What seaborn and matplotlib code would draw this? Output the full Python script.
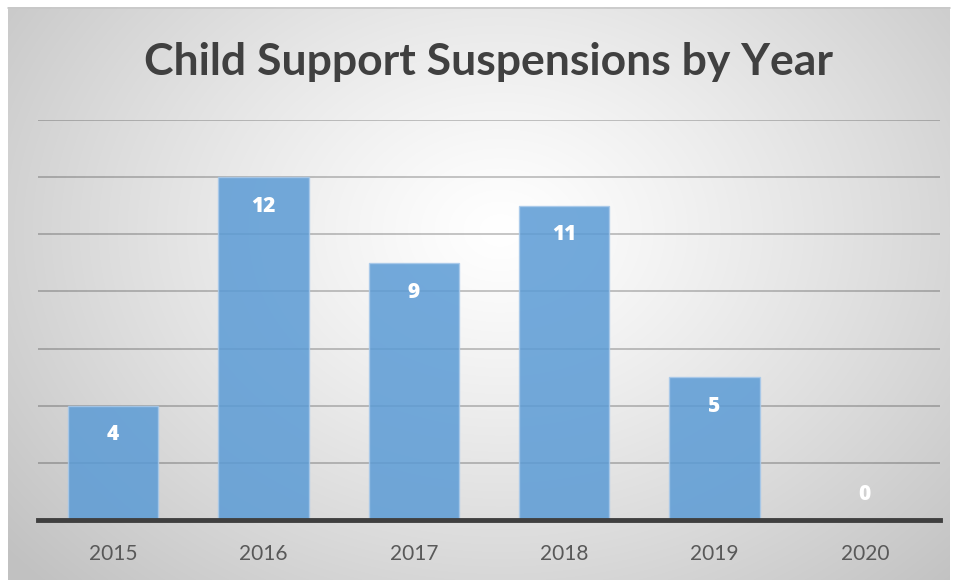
import numpy as np
import matplotlib
matplotlib.use("Agg")
import matplotlib.pyplot as plt
import seaborn as sns
import pandas as pd

years = ["2015", "2016", "2017", "2018", "2019", "2020"]
suspensions = [4, 12, 9, 11, 5, 0]
title = "Child Support Suspensions by Year"

sns.set_theme(style="white")
plt.rcParams["font.family"] = ["Lato", "DejaVu Sans"]

W, H = 959, 580
fig = plt.figure(figsize=(W / 100, H / 100), dpi=100, facecolor="white")

# background panel with radial gradient
bg = fig.add_axes([8 / W, 0, (950 - 8) / W, (580 - 7) / H], zorder=0)
px_w, px_h = 942, 573
xx, yy = np.meshgrid(np.arange(px_w) + 8, np.arange(px_h) + 7)
cx, cy, rx, ry = 500, 230, 640, 500
d = np.sqrt(((xx - cx) / rx) ** 2 + ((yy - cy) / ry) ** 2)
d = np.clip(d, 0, 1)
val = 1 - 0.24 * d ** 1.2
img = np.dstack([val, val, val])
bg.imshow(img, aspect="auto", extent=[0, 1, 0, 1], origin="upper")
bg.set_axis_off()
fig.add_artist(plt.Line2D([8 / W, 950 / W], [1 - 7.5 / H, 1 - 7.5 / H],
                          color="#c8c8c8", lw=1.2, transform=fig.transFigure))

ax = fig.add_axes([38 / W, 60 / H, 902 / W, 400 / H], zorder=1)
ax.set_facecolor("none")

df = pd.DataFrame({"year": years, "value": suspensions})
sns.barplot(data=df, x="year", y="value", color="#5b9bd5", saturation=1,
            width=0.6, alpha=0.85, edgecolor="#a8c9ea", linewidth=1.0,
            ax=ax, zorder=3)

ax.set_ylim(0, 14)
ax.set_xlim(-0.5, 5.5)
ax.set_yticks(np.arange(2, 15, 2))
ax.yaxis.grid(True, color="black", alpha=0.22, lw=1.4, zorder=1)
ax.set_axisbelow(True)
ax.tick_params(axis="y", left=False, labelleft=False)
ax.tick_params(axis="x", bottom=False, labelsize=15, labelcolor="#595959", pad=11)
ax.set_xlabel("")
ax.set_ylabel("")
for s in ["top", "right", "left"]:
    ax.spines[s].set_visible(False)
ax.spines["bottom"].set_color("#3f3f3f")
ax.spines["bottom"].set_linewidth(3.5)
ax.spines["bottom"].set_zorder(5)

for i, v in enumerate(suspensions):
    off = -21 if v > 0 else 18
    ax.annotate(str(v), xy=(i, v), xytext=(0, off), textcoords="offset points",
                ha="center", va="center", color="white", fontsize=15,
                fontweight="heavy", family=["Open Sans", "DejaVu Sans"], zorder=6)

fig.text(488 / W, 1 - 62 / H, title, ha="center", va="center",
         fontsize=32, fontweight="bold", color="#404040")

fig.savefig("out.png", dpi=100, facecolor="white")
